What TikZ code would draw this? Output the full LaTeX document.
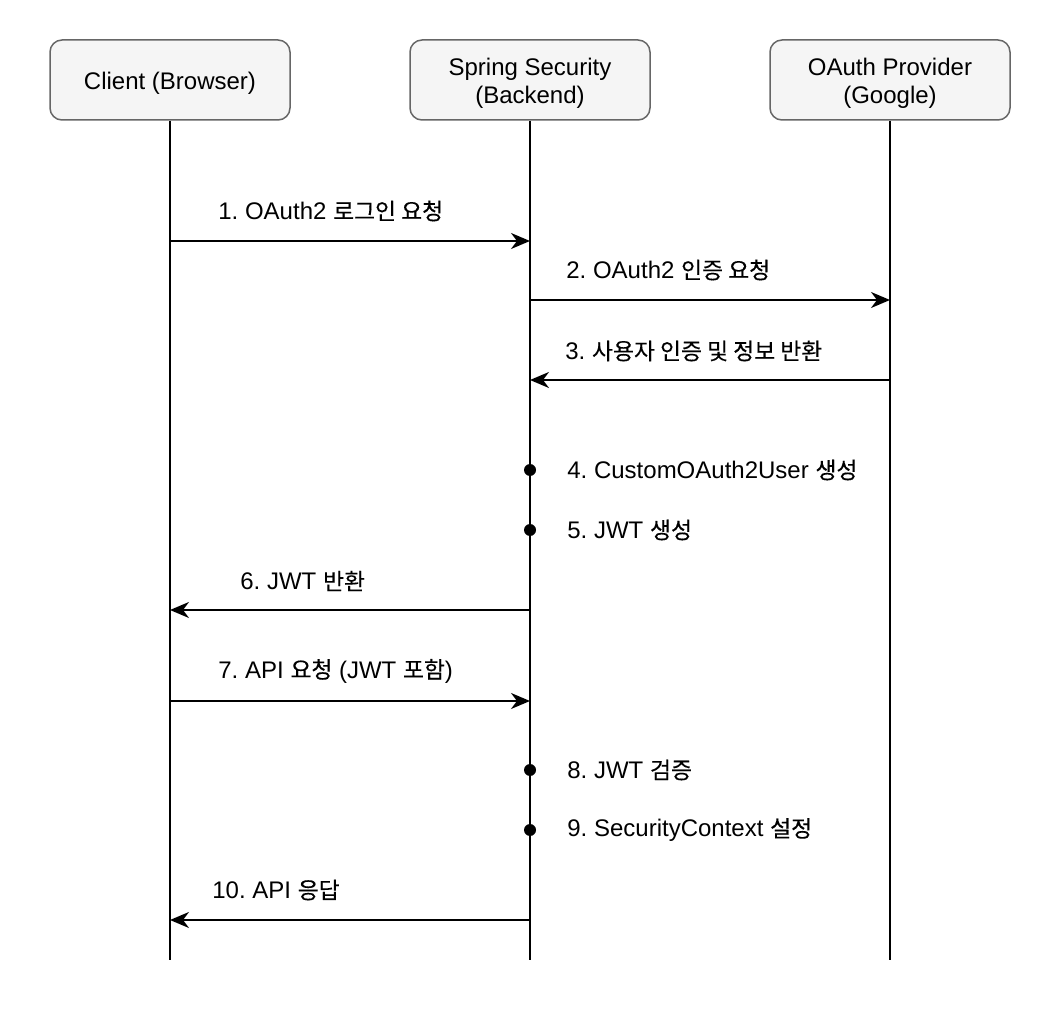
\documentclass[tikz,border=0pt]{standalone}
\usepackage{fontspec}
\setmainfont{Liberation Sans}
\newfontfamily\kr[Scale=0.95,FakeBold=0.3]{Noto Sans CJK KR}
\usetikzlibrary{arrows.meta}
\definecolor{boxline}{HTML}{666666}
\definecolor{boxfill}{HTML}{F5F5F5}
\frenchspacing
\begin{document}
\begin{tikzpicture}[x=0.5pt,y=-0.5pt,
  actor/.style={draw=boxline, fill=boxfill, rounded corners=6pt, line width=0.75pt,
    minimum width=120pt, minimum height=40pt, inner sep=0pt},
  actortext/.style={align=center, inner sep=0pt, yshift=-1.5pt,
    font=\fontsize{12}{14}\selectfont},
  life/.style={line width=1pt},
  msg/.style={line width=1pt, -{Stealth[length=9.5pt,width=8pt,inset=3pt]}},
  lbl/.style={anchor=west, inner sep=0pt, font=\fontsize{12}{14}\selectfont},
  dotnode/.style={circle, fill=black, inner sep=0pt, minimum size=6pt}]
\useasboundingbox (0,0) rectangle (1062,1032);
% actors
\node[actor, label={[actortext]center:Client (Browser)}] (c) at (170,80) {};
\node[actor, label={[actortext]center:Spring Security\\(Backend)}] (s) at (530,80) {};
\node[actor, label={[actortext]center:OAuth Provider\\(Google)}] (o) at (890,80) {};
% lifeline ends
\coordinate (cb) at (170,960);
\coordinate (sb) at (530,960);
\coordinate (ob) at (890,960);
\draw[life] (c.south) -- (cb);
\draw[life] (s.south) -- (sb);
\draw[life] (o.south) -- (ob);
% message points
\coordinate (c1) at (170,241); \coordinate (s1) at (530,241);
\coordinate (s2) at (530,300); \coordinate (o2) at (890,300);
\coordinate (o3) at (890,380); \coordinate (s3) at (530,380);
\coordinate (s6) at (530,610); \coordinate (c6) at (170,610);
\coordinate (c7) at (170,701); \coordinate (s7) at (530,701);
\coordinate (s10) at (530,920); \coordinate (c10) at (170,920);
\draw[msg] (c1) -- (s1);
\draw[msg] (s2) -- (o2);
\draw[msg] (o3) -- (s3);
\draw[msg] (s6) -- (c6);
\draw[msg] (c7) -- (s7);
\draw[msg] (s10) -- (c10);
% dots
\node[dotnode] (d4) at (530,470) {};
\node[dotnode] (d5) at (530,530) {};
\node[dotnode] (d8) at (530,770) {};
\node[dotnode] (d9) at (530,830) {};
% labels
\node[lbl] (l1) at (218,211) {1. OAuth2 {\kr 로그인 요청}};
\node[lbl] (l2) at (566,270) {2. OAuth2 {\kr 인증 요청}};
\node[lbl] (l3) at (565,351) {3. {\kr 사용자 인증 및 정보 반환}};
\node[lbl] (l4) at (567,470) {4. CustomOAuth2User {\kr 생성}};
\node[lbl] (l5) at (567,530) {5. JWT {\kr 생성}};
\node[lbl] (l6) at (240,581) {6. JWT {\kr 반환}};
\node[lbl] (l7) at (218,671) {7. API {\kr 요청} (JWT {\kr 포함})};
\node[lbl] (l8) at (567,770) {8. JWT {\kr 검증}};
\node[lbl] (l9) at (567,830) {9. SecurityContext {\kr 설정}};
\node[lbl] (l10) at (212,890) {10. API {\kr 응답}};
\end{tikzpicture}
\end{document}
